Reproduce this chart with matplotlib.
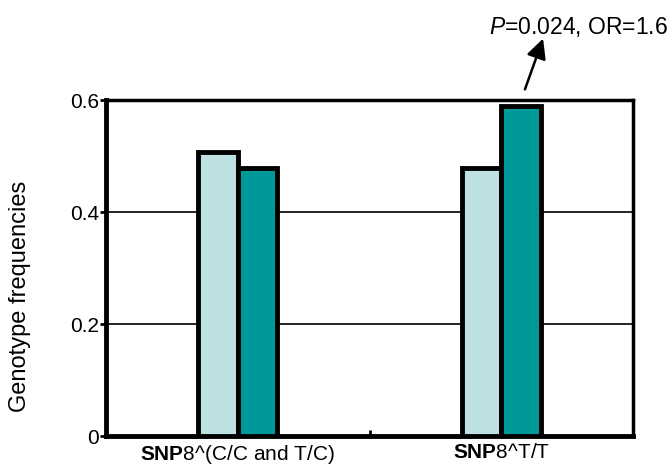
import matplotlib
matplotlib.use('Agg')
import matplotlib.pyplot as plt
import numpy as np
from matplotlib import font_manager

names = {f.name for f in font_manager.fontManager.ttflist}
narrow = 'Liberation Sans Narrow' if 'Liberation Sans Narrow' in names else 'Liberation Sans'

plt.rcParams['font.family'] = [narrow, 'DejaVu Sans']
plt.rcParams['mathtext.fontset'] = 'custom'
plt.rcParams['mathtext.rm'] = narrow
plt.rcParams['mathtext.it'] = narrow + ':italic'
plt.rcParams['mathtext.bf'] = narrow + ':bold'

# data
groups = [r'$\mathbf{SNP}$8^(C/C and T/C)', r'$\mathbf{SNP}$8^T/T']
light_vals = [0.507, 0.479]
dark_vals = [0.479, 0.589]
yticks = [0, 0.2, 0.4, 0.6]
ytick_labels = ['0', '0.2', '0.4', '0.6']

fig = plt.figure(figsize=(6.72, 4.69), dpi=100)
ax = fig.add_axes([106/672, 1 - 436/469, 527/672, 336/469])

x = np.arange(len(groups))
w = 0.15
ax.bar(x - w/2, light_vals, w, color='#bde0e3', edgecolor='black', linewidth=3.5, zorder=3)
ax.bar(x + w/2, dark_vals, w, color='#00999a', edgecolor='black', linewidth=3.5, zorder=3)

ax.set_xlim(-0.5, 1.5)
ax.set_ylim(0, 0.6)
ax.set_yticks(yticks)
ax.set_yticklabels(ytick_labels, fontsize=15)
ax.set_xticks([0.5])
ax.set_xticklabels([''])
ax.tick_params(axis='x', direction='in', length=4, width=2)
ax.tick_params(axis='y', direction='out', length=4, width=2, pad=1)
for i, g in enumerate(groups):
    ax.text(x[i], -0.012, g, ha='center', va='top', fontsize=15, transform=ax.transData)

ax.spines['left'].set_linewidth(3.5)
ax.spines['bottom'].set_linewidth(3.5)
ax.spines['right'].set_linewidth(2.5)
ax.spines['top'].set_linewidth(2.5)

for yv in [0.2, 0.4]:
    ax.axhline(yv, color='black', linewidth=1.2, zorder=1)

ax.set_ylabel('Genotype frequencies', fontsize=17, family=['Liberation Sans', 'DejaVu Sans'])
ax.yaxis.set_label_coords(-0.142, 0.417)

ax.annotate('', xy=(544/672, 1 - 36/469), xytext=(524/672, 1 - 92/469),
            xycoords='figure fraction', textcoords='figure fraction',
            arrowprops=dict(arrowstyle='-|>', color='black', lw=1.8, mutation_scale=30))
fig.text(668/672, 1 - 27/469, r'$\mathit{P}$=0.024, OR=1.6', ha='right', va='center', fontsize=16.5)

plt.savefig('out.png', dpi=100)
